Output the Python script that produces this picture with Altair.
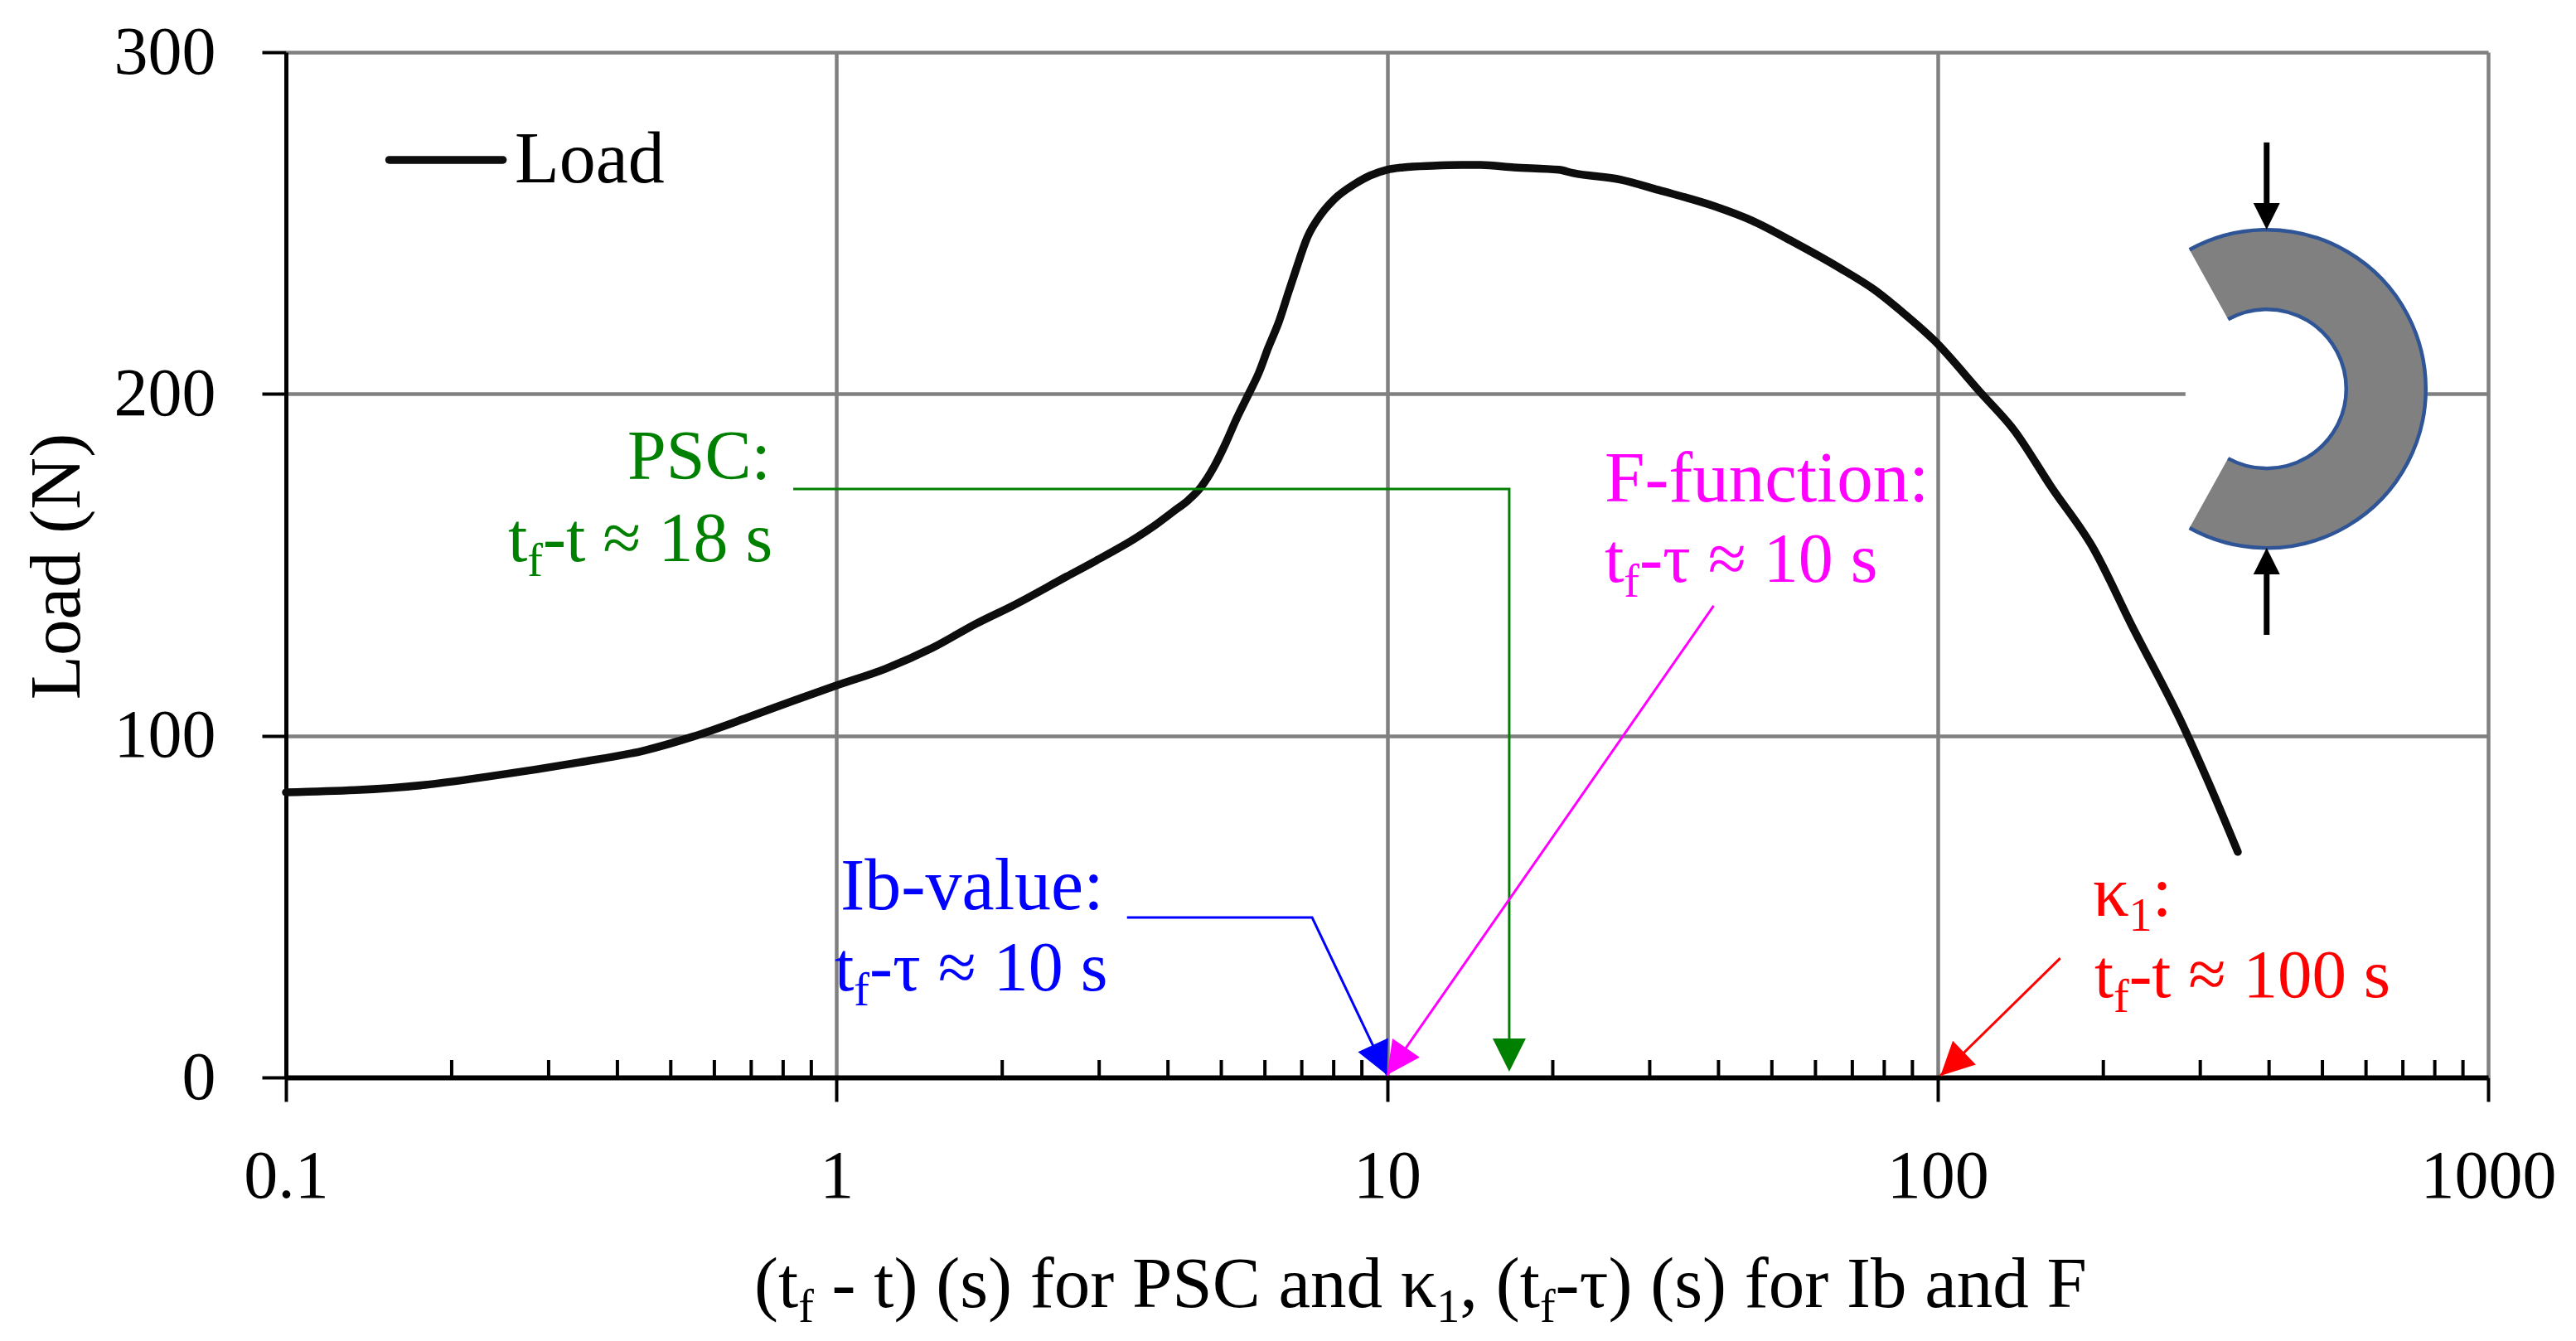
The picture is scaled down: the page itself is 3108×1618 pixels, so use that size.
import math
import altair as alt
import pandas as pd

# ---- values ----
load_x = [0.1, 0.179, 0.232, 0.341, 0.446, 0.548, 0.689, 0.837, 1.0, 1.228, 1.49, 1.80, 2.10, 2.62, 2.96,
          3.47, 3.73, 4.09, 4.36, 4.60, 4.85, 5.09, 5.33, 5.63, 5.85, 6.08, 6.37, 6.62, 6.82, 7.16, 7.60,
          8.02, 8.75, 9.31, 10.0, 10.7, 12.1, 13.7, 14.8, 17.0, 20.5, 21.8, 26.6, 31.1, 39.2, 45.9, 54.8,
          66.5, 76.6, 86.8, 98.4, 119.4, 137.7, 161, 192, 225, 279, 310, 351]
load_y = [83.4, 85.6, 88.0, 92.2, 95.6, 99.7, 105.3, 110.3, 114.7, 119.6, 125.6, 132.9, 138.2, 146.6, 151.2,
          157.5, 160.8, 165.6, 169.0, 172.9, 178.7, 185.5, 192.8, 200.6, 206.2, 213.4, 221.4, 229.7, 236.0, 245.7, 252.7,
          257.0, 261.5, 263.9, 265.6, 266.3, 266.8, 267.0, 267.0, 266.3, 265.6, 264.6, 262.7, 259.7, 255.0, 250.8, 244.4,
          236.8, 230.6, 223.6, 215.8, 200.6, 189.4, 172.7, 154.7, 132.4, 103.0, 86.6, 66.0]
x_ticks = [0.1, 1, 10, 100, 1000]
y_ticks = [0, 100, 200, 300]
minor_x = [0.2, 0.3, 0.4, 0.5, 0.6, 0.7, 0.8, 0.9, 2, 3, 4, 5, 6, 7, 8, 9,
           20, 30, 40, 50, 60, 70, 80, 90, 200, 300, 400, 500, 600, 700, 800, 900]
legend_x, legend_y = [0.154, 0.2477], [268.5, 268.5]

green_x, green_y = [0.8345, 16.67, 16.67], [172.2, 172.2, 5]
blue_x, blue_y = [3.37, 7.31, 10.0], [46.8, 46.8, 0.7]
magenta_x, magenta_y = [39.2, 10.0], [138.0, 0.7]
red_x, red_y = [167.0, 101.2], [34.9, 0.5]

# plot geometry
PL, PT, PW, PH = 345, 63, 2657, 1237
FONT = "Liberation Serif"
TXT, LAB = 87, 82
LINE2 = 84
SUB = 56


def to_x(px):
    return 10 ** ((px - PL) / (PW / 4) - 1)


def to_y(py):
    return (PT + PH - py) / PH * 300


WIDTHS = {" ": .25, "(": .333, ")": .333, "t": .278, "f": .333, "-": .333, "s": .389, "o": .5, "r": .333,
          "P": .556, "S": .556, "C": .667, "a": .444, "n": .5, "d": .5, "κ": .5, "τ": .44, ",": .25,
          "I": .333, "b": .5, "F": .556, ":": .278, "v": .5, "l": .278, "u": .5, "e": .444, "c": .444,
          "i": .278, "≈": .549, "L": .611}


def adv(s, size):
    return sum(WIDTHS.get(c, .5) for c in s) * size


rows = []


def text_line(px, py, parts, color, main=TXT):
    cur = px
    for s, sub in parts:
        size = SUB if sub else main
        lead = len(s) - len(s.lstrip(" "))
        rows.append(dict(x=to_x(cur + adv(s[:lead], size)), y=to_y(py + (18 if sub else 0)),
                         t=s.strip(" "), c=color, s=size))
        cur += adv(s, size)


GREEN, BLUE, MAG, RED = "#008000", "#0000ff", "#ff00ff", "#ff0000"
text_line(621, 220, [("Load", 0)], "#000000", 88)
text_line(910, 1577, [("(t", 0), ("f", 1), (" - t) (s) for PSC and κ", 0), ("1", 1), (", (t", 0), ("f", 1),
                      ("-τ) (s) for Ib and F", 0)], "#000000")
text_line(757, 578, [("PSC:", 0)], GREEN, 84)
text_line(613, 677, [("t", 0), ("f", 1), ("-t ≈ 18 s", 0)], GREEN, LINE2)
text_line(1936, 605, [("F-function:", 0)], MAG)
text_line(1936, 702, [("t", 0), ("f", 1), ("-τ ≈ 10 s", 0)], MAG, LINE2)
text_line(1014, 1097, [("Ib-value:", 0)], BLUE, 88)
text_line(1007, 1195, [("t", 0), ("f", 1), ("-τ ≈ 10 s", 0)], BLUE, LINE2)
text_line(2525, 1105, [("κ", 0), ("1", 1), (":", 0)], RED)
text_line(2527, 1203, [("t", 0), ("f", 1), ("-t ≈ 100 s", 0)], RED, 83)

xs = alt.Scale(type="log", base=10, domain=[0.1, 1000], nice=False)
ys = alt.Scale(domain=[0, 300], nice=False)


def gridaxis(**kw):
    return alt.Axis(grid=True, gridColor="#808080", gridWidth=4.5, domainColor="#000000",
                    tickColor="#000000", tickWidth=4, tickSize=29, labelFont=FONT, labelFontSize=LAB,
                    labelColor="#000000", **kw)


x_axis = gridaxis(values=x_ticks, format="~g", domainWidth=6, labelPadding=50, title=None, labelFlush=False)
y_axis = gridaxis(values=y_ticks, domainWidth=5, labelPadding=56, title="Load (N)",
                  titleFont=FONT, titleFontSize=TXT, titleFontWeight="normal",
                  titleColor="#000000", titleX=95 - PL, titleY=683 - PT,
                  titleAngle=270, titleAlign="center", titleBaseline="alphabetic")
X = alt.X("x:Q", scale=xs, axis=x_axis, sort=None)
Y = alt.Y("y:Q", scale=ys, axis=y_axis)


def polyline(px, py, color, width, cap="butt"):
    return alt.Chart(pd.DataFrame({"x": px, "y": py})).mark_line(
        color=color, strokeWidth=width, strokeCap=cap, strokeJoin="miter", clip=False
    ).encode(x=X, y=Y)


HEAD = "M0,0L-1,-2L1,-2Z"


def head(x, y, color, angle, size=1600):
    return alt.Chart(pd.DataFrame({"x": [x], "y": [y]})).mark_point(
        shape=HEAD, filled=True, opacity=1, strokeWidth=0
    ).encode(x=X, y=Y, color=alt.value(color), size=alt.value(size), angle=alt.value(angle))


base = alt.Chart(pd.DataFrame({"x": load_x, "y": load_y})).mark_line(
    color="#0d0d0d", strokeWidth=9.5, strokeCap="round", strokeJoin="round", interpolate="monotone"
).encode(x=X, y=Y)

minor = alt.Chart(pd.DataFrame({"x": minor_x, "y": [0.0] * len(minor_x), "y2": [5.1] * len(minor_x)})).mark_rule(
    color="#000000", strokeWidth=4
).encode(x=X, y=Y, y2="y2:Q")

# specimen sketch: a gap in the 200 N grid line, then a grey C-shaped section
gap = alt.Chart(pd.DataFrame({"x": [282.0], "x2": [774.0], "y": [200.0]})).mark_rule(
    color="#ffffff", strokeWidth=8
).encode(x=X, x2="x2:Q", y=Y)

cx, cy = [396.0], [201.5]
start, end = math.radians(-29), math.radians(209)
spec = pd.DataFrame({"x": cx, "y": cy})


def arc(r, r2, **mk):
    return alt.Chart(spec).mark_arc(**mk).encode(
        x=X, y=Y, theta=alt.value(start), theta2=alt.value(end), radius=alt.value(r), radius2=alt.value(r2)
    )


section = arc(192, 96, fill="#808080", stroke=None)
outer = arc(192, 192, fill=None, stroke="#2f5597", strokeWidth=4.5)
inner = arc(96, 96, fill=None, stroke="#2f5597", strokeWidth=4.5)

labels = alt.Chart(pd.DataFrame(rows)).mark_text(align="left", baseline="alphabetic", font=FONT).encode(
    x=X, y=Y, text="t:N",
    color=alt.Color("c:N", scale=None, legend=None),
    size=alt.Size("s:Q", scale=None, legend=None),
)

chart = alt.layer(
    base, minor, gap, section, outer, inner,
    polyline(legend_x, legend_y, "#0d0d0d", 9.5, "round"),
    polyline(cx * 2, [273.6, 255.0], "#000000", 7),
    head(cx[0], 248.1, "#000000", 0, 1024),
    polyline(cx * 2, [129.5, 148.0], "#000000", 7),
    head(cx[0], 155.0, "#000000", 180, 1024),
    polyline(green_x, green_y, GREEN, 3),
    head(16.67, 1.7, GREEN, 0),
    polyline(blue_x, blue_y, BLUE, 3),
    head(10.0, 0.7, BLUE, 335),
    polyline(magenta_x, magenta_y, MAG, 3),
    head(10.0, 0.7, MAG, 35),
    polyline(red_x, red_y, RED, 3),
    head(101.2, 0.5, RED, 46),
    labels,
).properties(
    width=PW, height=PH, background="#ffffff",
    autosize=alt.AutoSizeParams(type="none"),
    padding={"left": PL - 8, "top": PT - 8, "right": 98, "bottom": 310},
).configure_view(stroke=None)

chart.save("out.html", embed_options={"renderer": "svg", "actions": False})
